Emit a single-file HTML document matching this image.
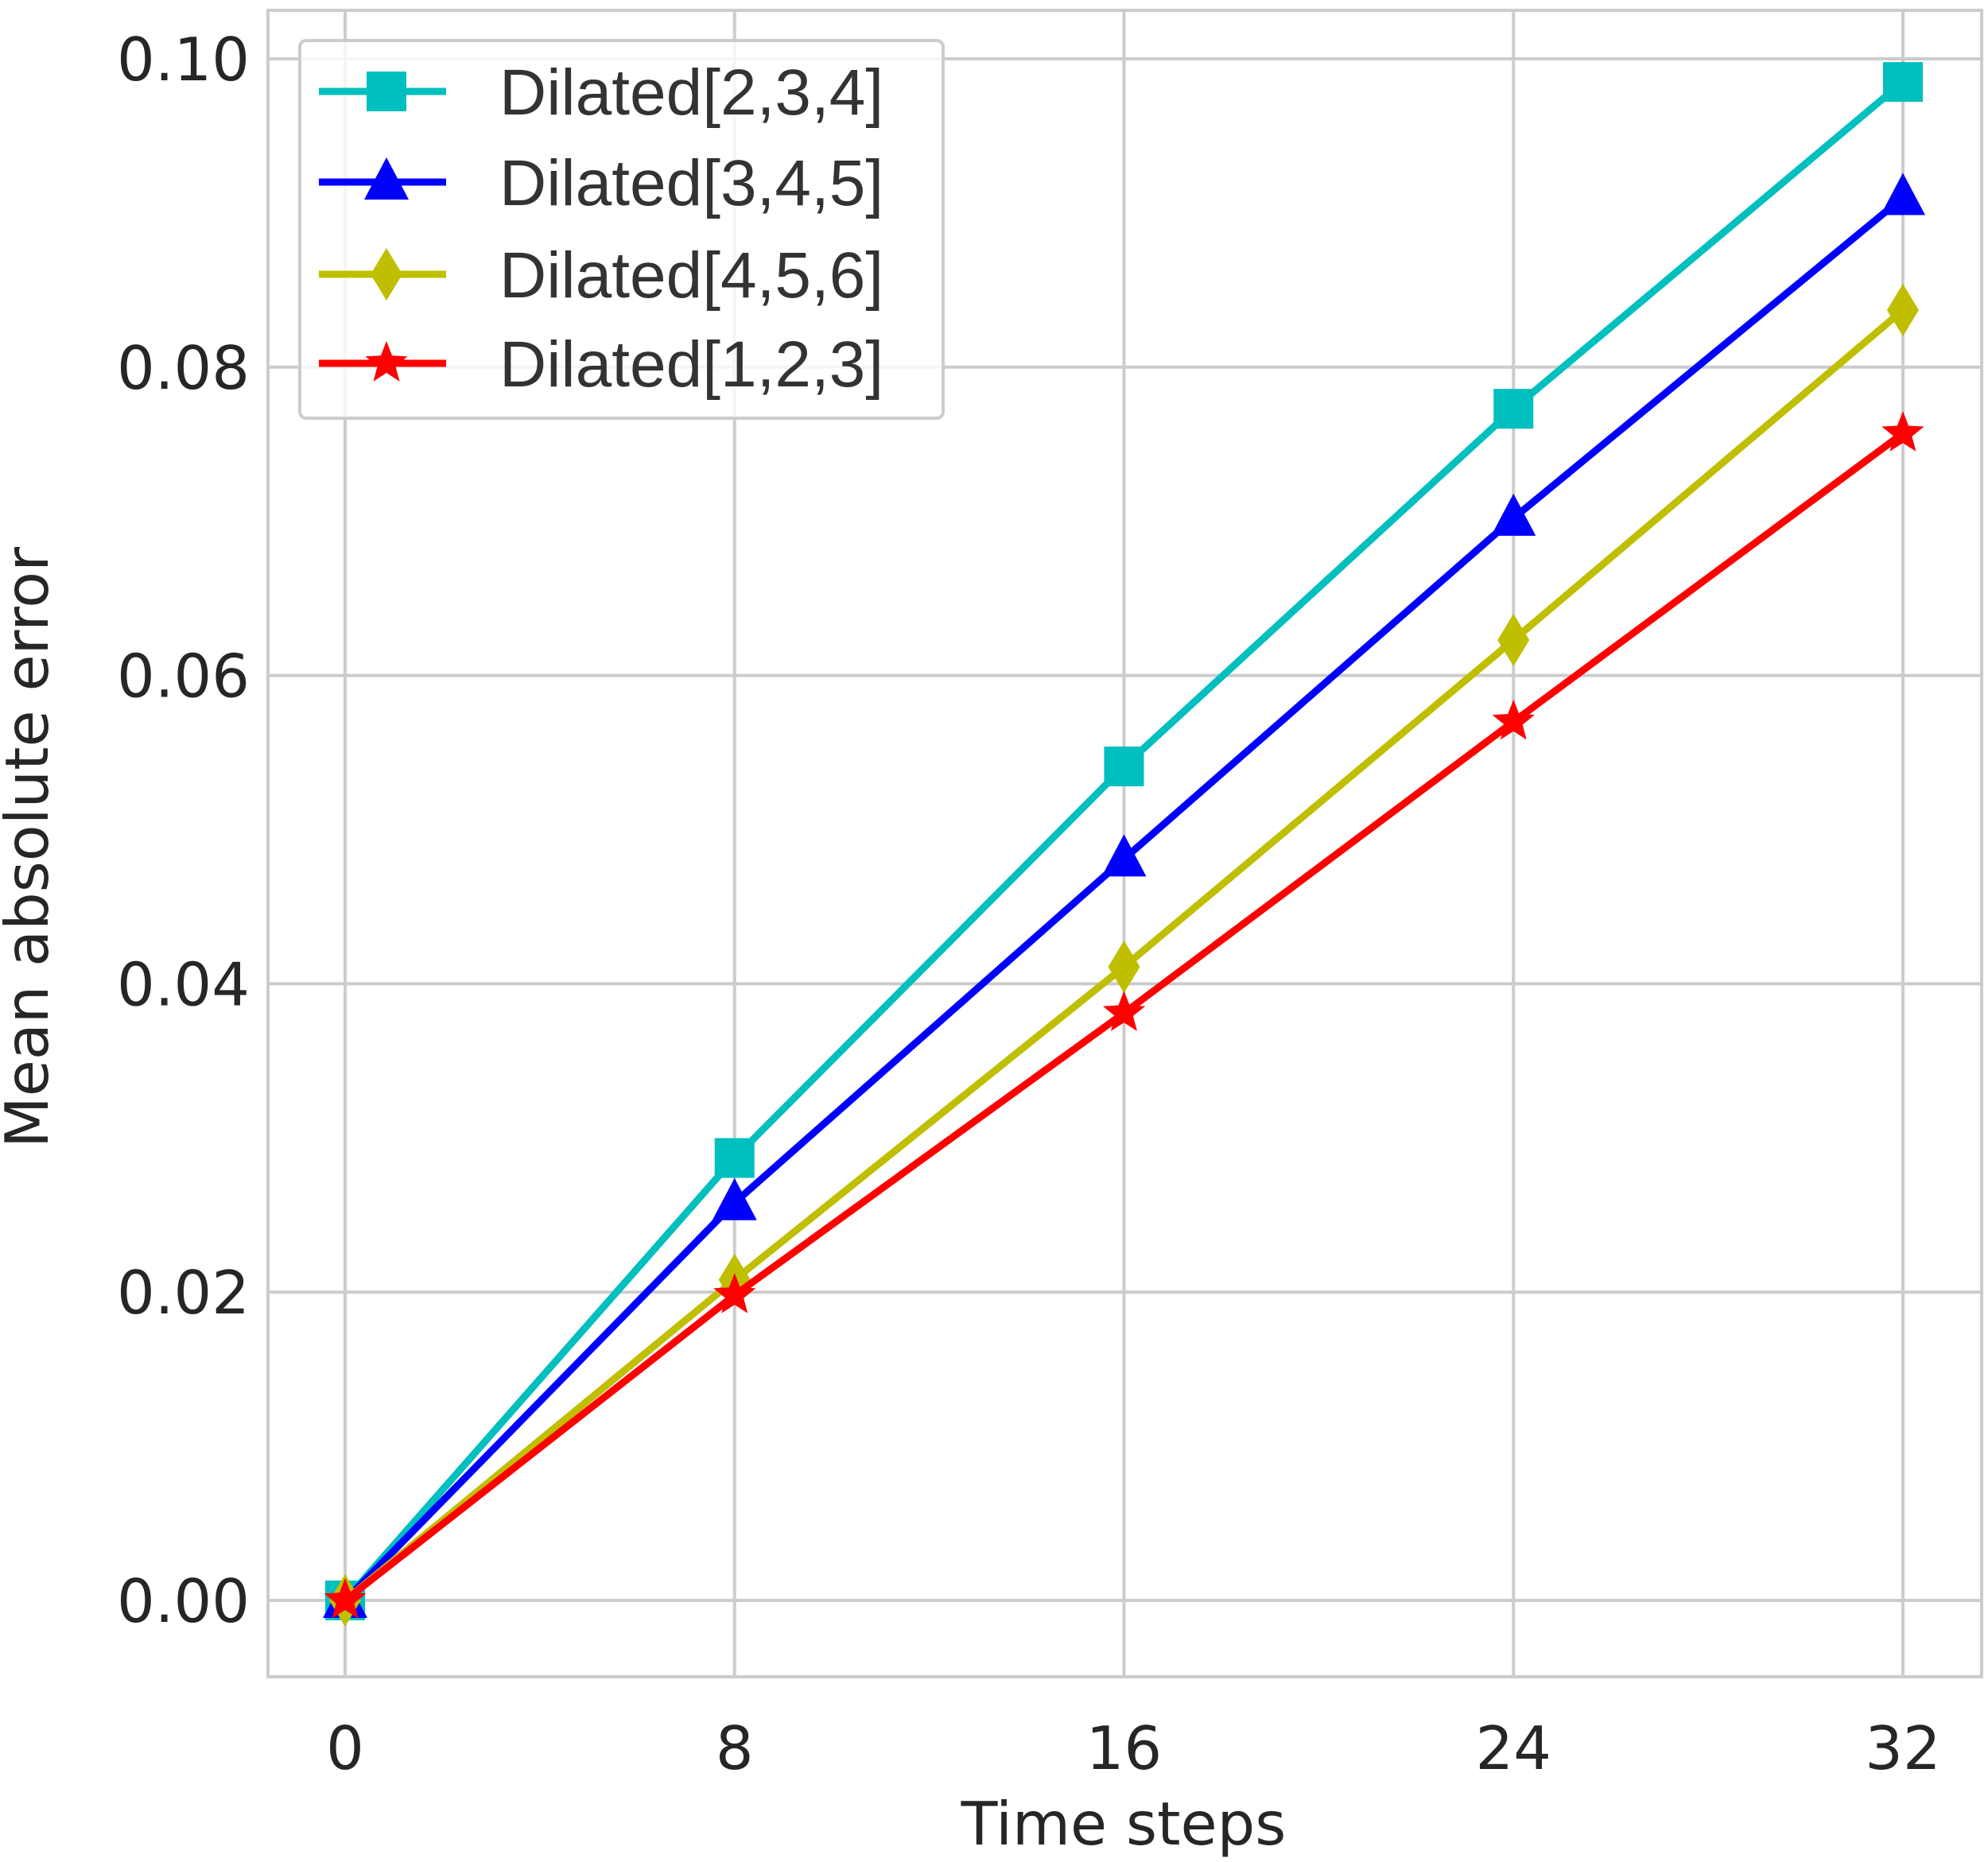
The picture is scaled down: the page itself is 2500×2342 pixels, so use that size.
<!DOCTYPE html>
<html><head><meta charset="utf-8"><style>
body{margin:0;background:#fff}
svg{display:block;font-family:"DejaVu Sans","Liberation Sans",sans-serif}
</style></head><body>
<svg id="chart" width="2500" height="2342" viewBox="0 0 2500 2342">
<rect x="0" y="0" width="2500" height="2342" fill="#fff"/>
<g id="grid"></g>
<rect x="337" y="13" width="2155" height="2096" fill="none" stroke="#cccccc" stroke-width="4"/>
<g id="ticks"></g>
<g id="series"></g>
<text x="1413" y="2320" font-size="75" fill="#262626" text-anchor="middle">Time steps</text>
<text x="0" y="0" font-size="75" fill="#262626" text-anchor="middle" transform="translate(60,1066) rotate(-90)">Mean absolute error</text>
<g id="legend"></g>
</svg>
<script>
const categories=[0,8,16,24,32];
const xTickLabels=["0","8","16","24","32"];
const yTicks=[0,0.02,0.04,0.06,0.08,0.10];
const yTickLabels=["0.00","0.02","0.04","0.06","0.08","0.10"];
const seriesNames=["Dilated[2,3,4]","Dilated[3,4,5]","Dilated[4,5,6]","Dilated[1,2,3]"];
const s234=[0,0.0287,0.0541,0.0773,0.0985];
const s345=[0,0.0258,0.0481,0.0702,0.0910];
const s456=[0,0.0208,0.0411,0.0623,0.0837];
const s123=[0,0.0198,0.0381,0.0570,0.0757];
const NS="http://www.w3.org/2000/svg";
const X=v=>434+(v-0)*(2393-434)/32;
const Y=v=>2013-v*(2013-74)/0.10;
function mk(t,a,p){const e=document.createElementNS(NS,t);for(const k in a)e.setAttribute(k,a[k]);p.appendChild(e);return e;}
const grid=document.getElementById('grid'),ticks=document.getElementById('ticks');
categories.forEach((c,i)=>{
 const l=mk('line',{x1:X(c),x2:X(c),y1:13,y2:2109,stroke:'#cccccc','stroke-width':4},grid);
 
 
 const t=mk('text',{x:X(c),y:2225,'font-size':75,fill:'#262626','text-anchor':'middle'},ticks);
 t.textContent=xTickLabels[i];
 
 
});
yTicks.forEach((v,i)=>{
 const l=mk('line',{x1:337,x2:2492,y1:Y(v),y2:Y(v),stroke:'#cccccc','stroke-width':4},grid);
 
 
 const t=mk('text',{x:314,y:Y(v)+27,'font-size':75,fill:'#262626','text-anchor':'end'},ticks);
 t.textContent=yTickLabels[i];
 
 
});
function marker(type,x,y,color,p){
 let e;
 if(type==='s') e=mk('rect',{x:x-25,y:y-25,width:50,height:50,fill:color},p);
 else if(type==='t') e=mk('polygon',{points:`${x},${y-31} ${x+28},${y+22} ${x-28},${y+22}`,fill:color},p);
 else if(type==='d') e=mk('polygon',{points:`${x},${y-33} ${x+20},${y} ${x},${y+33} ${x-20},${y}`,fill:color},p);
 else {let pts=[];for(let k=0;k<10;k++){const r=k%2?12:28,a=-Math.PI/2+k*Math.PI/5;pts.push((x+r*Math.cos(a)).toFixed(1)+','+(y+r*Math.sin(a)).toFixed(1));}
  e=mk('polygon',{points:pts.join(' '),fill:color},p);}
 return e;
}
const seriesData=[s234,s345,s456,s123];
const colors=['#00bfbf','#0000ff','#bfbf00','#ff0000'];
const mtypes=['s','t','d','*'];
const sg=document.getElementById('series'),lg=document.getElementById('legend');
const lb=mk('rect',{x:377,y:51,width:809,height:475,rx:8,fill:'#fff','fill-opacity':0.8,stroke:'#cccccc','stroke-width':4},lg);


seriesData.forEach((d,i)=>{
 const g=mk('g',{},sg);
 
 
 const pl=mk('polyline',{points:d.map((v,j)=>X(categories[j])+','+Y(v)).join(' '),fill:'none',stroke:colors[i],'stroke-width':9,'stroke-linejoin':'round'},g);
 
 
 d.forEach((v,j)=>{const m=marker(mtypes[i],X(categories[j]),Y(v),colors[i],g);
  
  });
 const ly=[115,229,345,457][i];
 const le=mk('g',{},lg);
 
 
 mk('line',{x1:401,x2:561,y1:ly,y2:ly,stroke:colors[i],'stroke-width':9},le);
 marker(mtypes[i],486,ly,colors[i],le);
 const t=mk('text',{x:628,y:ly+29,'font-size':82,fill:'#333333','font-family':'Liberation Sans, sans-serif'},le);
 t.textContent=seriesNames[i];
});
</script>
</body></html>
